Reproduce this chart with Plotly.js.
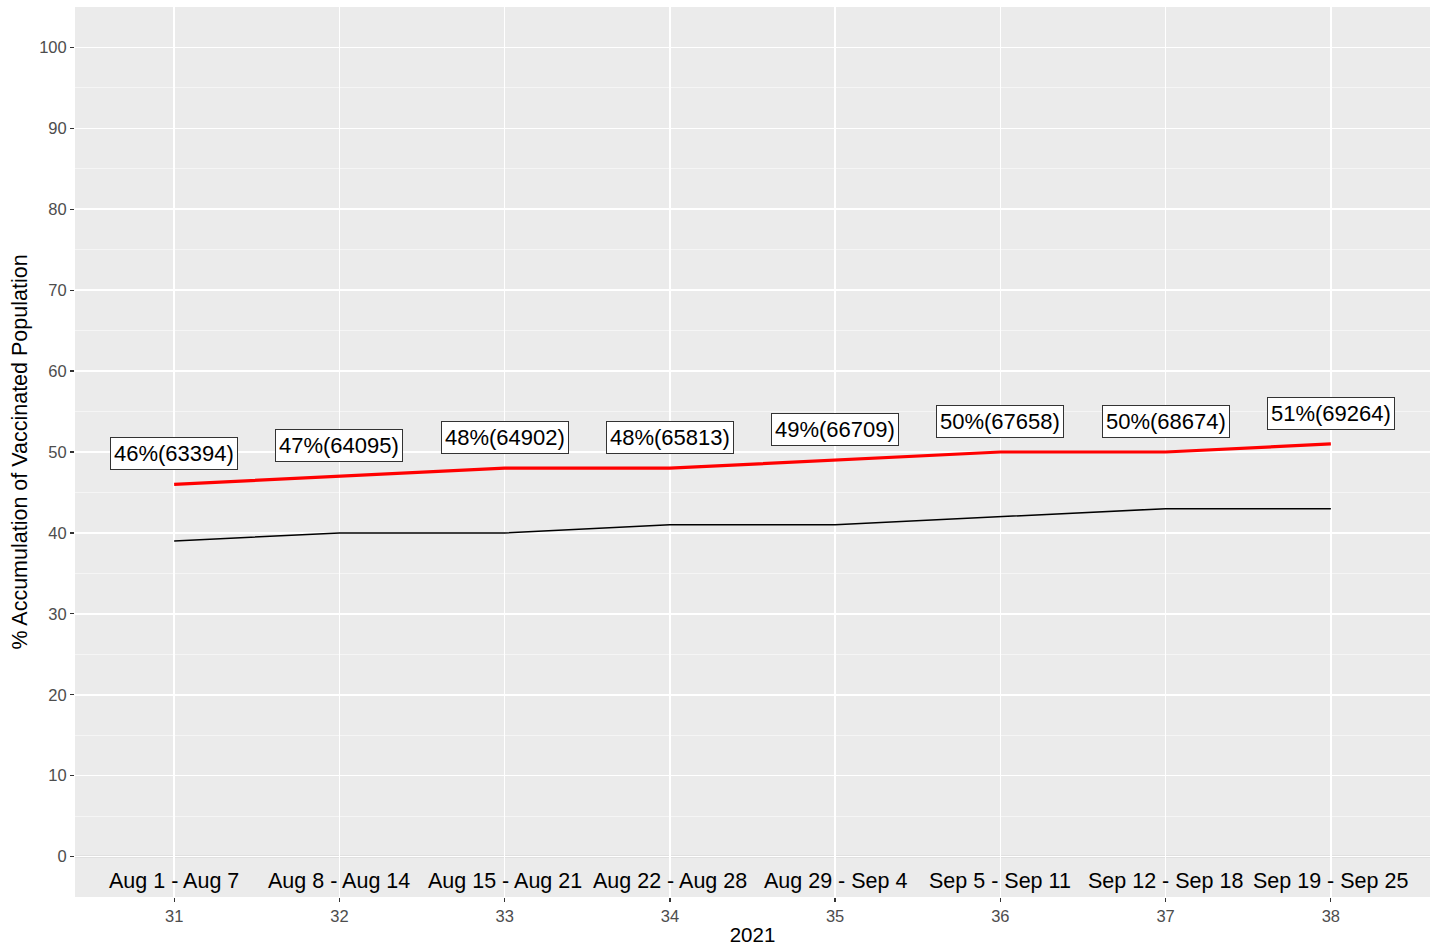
<!DOCTYPE html>
<html>
<head>
<meta charset="utf-8">
<script src="https://cdn.plot.ly/plotly-3.0.1.min.js"></script>
<style>html,body{margin:0;padding:0;background:#fff;}#chart{width:1434px;height:947px;}</style>
</head>
<body>
<div id="chart"></div>
<script>
const weeks = [31, 32, 33, 34, 35, 36, 37, 38];
const weekLabels = ["Aug 1 - Aug 7", "Aug 8 - Aug 14", "Aug 15 - Aug 21", "Aug 22 - Aug 28", "Aug 29 - Sep 4", "Sep 5 - Sep 11", "Sep 12 - Sep 18", "Sep 19 - Sep 25"];
const pctAtLeastOne = [46, 47, 48, 48, 49, 50, 50, 51];
const countAtLeastOne = [63394, 64095, 64902, 65813, 66709, 67658, 68674, 69264];
const pctFull = [39, 40, 40, 41, 41, 42, 43, 43];
const yTicks = [0, 10, 20, 30, 40, 50, 60, 70, 80, 90, 100];

const traces = [
  {x: weeks, y: pctFull, type: 'scatter', mode: 'lines', line: {color: '#000000', width: 1.5}, hoverinfo: 'skip'},
  {x: weeks, y: pctAtLeastOne, type: 'scatter', mode: 'lines', line: {color: '#FF0000', width: 3.2}, hoverinfo: 'skip'}
];

const annotations = [];
weeks.forEach((w, i) => {
  annotations.push({
    x: w, y: pctAtLeastOne[i], xref: 'x', yref: 'y',
    text: pctAtLeastOne[i] + '%(' + countAtLeastOne[i] + ')',
    showarrow: false, yshift: 30.5,
    font: {family: 'Liberation Sans, Arial, sans-serif', size: 22, color: '#000'},
    bgcolor: '#FFFFFF', bordercolor: '#333333', borderwidth: 1, borderpad: 3
  });
  annotations.push({
    x: w, y: 0, xref: 'x', yref: 'y',
    text: weekLabels[i], showarrow: false, yshift: -24.5,
    font: {family: 'Liberation Sans, Arial, sans-serif', size: 21.5, color: '#000'}
  });
});

const layout = {
  width: 1434, height: 947,
  margin: {l: 75, r: 4, t: 7, b: 50},
  paper_bgcolor: '#FFFFFF', plot_bgcolor: '#EBEBEB',
  showlegend: false,
  font: {family: 'Liberation Sans, Arial, sans-serif'},
  xaxis: {
    range: [30.4, 38.6], tickvals: weeks, ticktext: weeks.map(String),
    showgrid: true, gridcolor: '#FFFFFF', gridwidth: 1.6,
    zeroline: false, showline: false,
    ticks: 'outside', ticklen: 4, tickwidth: 1.3, tickcolor: '#333333',
    tickfont: {size: 16.5, color: '#4D4D4D'},
    title: {text: '2021', font: {size: 20.5, color: '#000'}, standoff: 3},
    minor: {showgrid: false}
  },
  yaxis: {
    range: [-5, 105], tickvals: yTicks,
    showgrid: true, gridcolor: '#FFFFFF', gridwidth: 1.6,
    zeroline: false, showline: false,
    ticks: 'outside', ticklen: 4, tickwidth: 1.3, tickcolor: '#333333',
    tickfont: {size: 16.5, color: '#4D4D4D'},
    title: {text: '% Accumulation of Vaccinated Population', font: {size: 21.5, color: '#000'}, standoff: 5},
    minor: {tickvals: [5, 15, 25, 35, 45, 55, 65, 75, 85, 95], showgrid: true, gridcolor: '#F7F7F7', gridwidth: 0.8, ticks: ''}
  },
  shapes: [
    {type: 'line', xref: 'paper', x0: 0, x1: 1, yref: 'y', y0: 0, y1: 0, line: {color: '#BEBEBE', width: 1.6}, layer: 'below'}
  ],
  annotations: annotations
};

Plotly.newPlot('chart', traces, layout, {displayModeBar: false, staticPlot: true});
</script>
</body>
</html>
